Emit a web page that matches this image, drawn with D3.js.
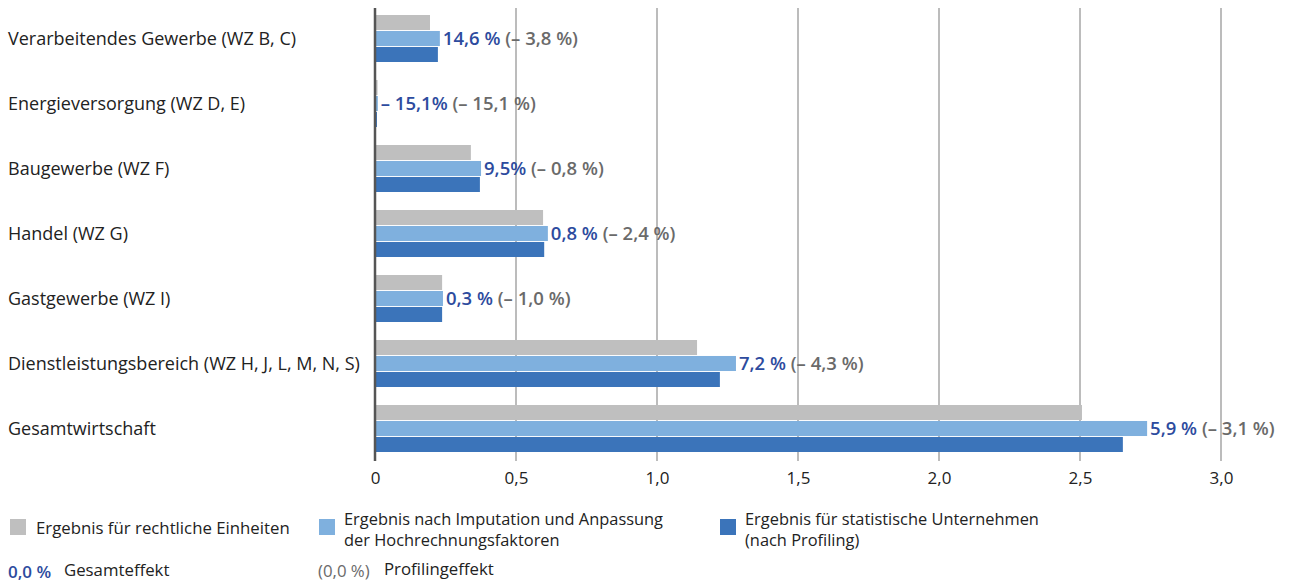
<!DOCTYPE html>
<html><head><meta charset="utf-8">
<script src="https://cdn.jsdelivr.net/npm/d3@7"></script>
<style>body{margin:0;background:#fff}svg{display:block}text{font-family:"Open Sans",sans-serif}</style>
</head><body><svg id="c" width="1289" height="583"></svg>
<script>
const categories = ["Verarbeitendes Gewerbe (WZ B, C)","Energieversorgung (WZ D, E)","Baugewerbe (WZ F)","Handel (WZ G)","Gastgewerbe (WZ I)","Dienstleistungsbereich (WZ H, J, L, M, N, S)","Gesamtwirtschaft"];
const seriesNames = ["Ergebnis für rechtliche Einheiten","Ergebnis nach Imputation und Anpassung der Hochrechnungsfaktoren","Ergebnis für statistische Unternehmen (nach Profiling)"];
const legalUnits = [0.195, 0.009, 0.34, 0.596, 0.238, 1.142, 2.507];
const imputed = [0.23, 0.01, 0.376, 0.613, 0.241, 1.28, 2.738];
const enterprises = [0.223, 0.007, 0.372, 0.60, 0.238, 1.223, 2.652];
const totalEffect = ["14,6 %","– 15,1%","9,5%","0,8 %","0,3 %","7,2 %","5,9 %"];
const profilingEffect = ["(– 3,8 %)","(– 15,1 %)","(– 0,8 %)","(– 2,4 %)","(– 1,0 %)","(– 4,3 %)","(– 3,1 %)"];
const ticks = [0,0.5,1.0,1.5,2.0,2.5,3.0];
const tickLabels = ["0","0,5","1,0","1,5","2,0","2,5","3,0"];

const colors = ["#bfbfbf","#7fb0de","#3b74ba"];
const blue = "#2d4b9e", gray = "#6a6a6a";
const svg = d3.select("#c");
const x = d3.scaleLinear().domain([0,3]).range([375,1221]);
const y = d3.scaleBand().domain(categories).range([6,461]);
const inner = d3.scaleBand().domain([0,1,2]).range([9,56]).paddingInner(0.06);
const series = [legalUnits, imputed, enterprises];

// grid
svg.append("g").selectAll("line").data(ticks.slice(1)).join("line")
  .attr("x1",d=>x(d)).attr("x2",d=>x(d)).attr("y1",8).attr("y2",461)
  .attr("stroke","#a6a6a6").attr("stroke-width",1.5);

// bars
categories.forEach((c,i)=>{
  const g = svg.append("g").attr("transform",`translate(0,${y(c)})`);
  series.forEach((s,j)=>{
    g.append("rect").attr("x",x(0)).attr("y",inner(j)).attr("width",x(s[i])-x(0)).attr("height",inner.bandwidth()).attr("fill",colors[j]);
  });
  const t = g.append("text").attr("x",x(imputed[i])+3).attr("y",inner(1)+inner.bandwidth()/2).attr("dy","0.36em").attr("font-size",18.5);
  t.append("tspan").attr("fill",blue).attr("font-weight",600).text(totalEffect[i]);
  t.append("tspan").attr("fill",gray).attr("font-weight",600).text(" "+profilingEffect[i]);
  svg.append("text").attr("x",8).attr("y",y(c)+inner(1)+inner.bandwidth()/2).attr("dy","0.36em").attr("font-size",18).attr("fill","#222").text(c);
});

// axis line
svg.append("line").attr("x1",x(0)).attr("x2",x(0)).attr("y1",8).attr("y2",461).attr("stroke","#555").attr("stroke-width",2.5);

// x tick labels
const ax = d3.axisBottom(x).tickValues(ticks).tickFormat((d,i)=>tickLabels[i]).tickSize(0).tickPadding(0);
const axg = svg.append("g").attr("transform","translate(0,469)").call(ax);
axg.select(".domain").remove();
axg.selectAll("text").attr("font-size",17).attr("fill","#222").attr("font-family","Open Sans").attr("dy","0.9em");

// legend
const leg = [{x:10,tx:36,lines:["Ergebnis für rechtliche Einheiten"]},{x:319,tx:344,lines:["Ergebnis nach Imputation und Anpassung","der Hochrechnungsfaktoren"]},{x:720,tx:745,lines:["Ergebnis für statistische Unternehmen","(nach Profiling)"]}];
leg.forEach((l,i)=>{
  svg.append("rect").attr("x",l.x).attr("y",519).attr("width",16).attr("height",16).attr("fill",colors[i]);
  if(l.lines.length===1){ svg.append("text").attr("font-size",16.8).attr("fill","#222").attr("x",l.tx).attr("y",534).text(l.lines[0]); }
  else l.lines.forEach((s,k)=>svg.append("text").attr("font-size",16.4).attr("fill","#222").attr("x",l.tx).attr("y",525+k*21).text(s));
});
svg.append("text").attr("x",8).attr("y",578).attr("font-size",17).attr("font-weight",600).attr("fill",blue).text("0,0 %");
svg.append("text").attr("x",64).attr("y",576).attr("font-size",16.8).attr("fill","#222").text("Gesamteffekt");
svg.append("text").attr("x",318).attr("y",577).attr("font-size",16.8).attr("fill",gray).text("(0,0 %)");
svg.append("text").attr("x",384).attr("y",575).attr("font-size",16.8).attr("fill","#222").text("Profilingeffekt");
</script></body></html>
